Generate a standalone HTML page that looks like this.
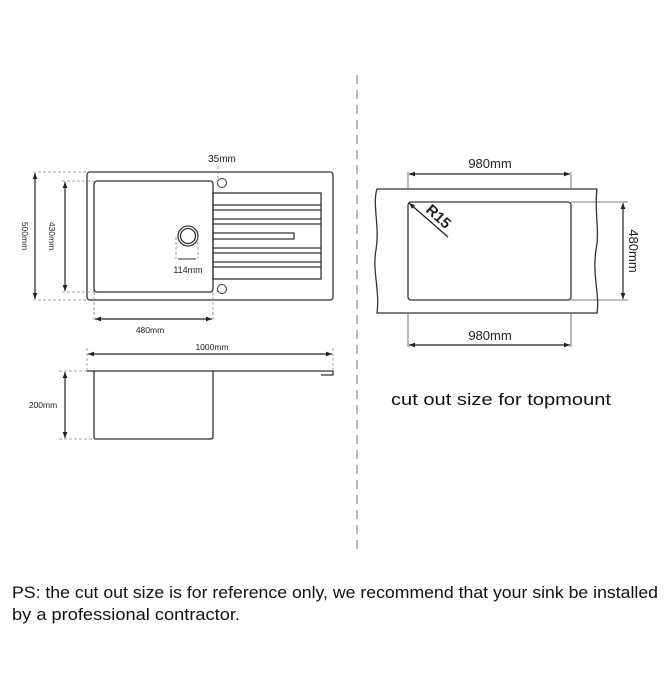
<!DOCTYPE html>
<html><head><style>body{margin:0;background:#fff}</style></head><body>
<svg width="670" height="670" xmlns="http://www.w3.org/2000/svg" font-family="Liberation Sans, sans-serif">
<defs><marker id="a" viewBox="0 0 10 10" refX="10" refY="5" markerWidth="7" markerHeight="5" orient="auto-start-reverse"><path d="M0,1L10,5L0,9z" fill="#222"/></marker></defs>
<g stroke="#333" fill="none" stroke-width="1.3">
<rect x="87" y="172" width="246" height="128" rx="3"/>
<rect x="94" y="181" width="119" height="111" rx="3"/>
<rect x="213" y="193" width="108" height="86"/>
<path d="M213,205H321M213,210H321M213,219H321M213,224H321M213,233H294V239H213M213,248H321M213,253H321M213,262H321M213,267H321"/>
<circle cx="188" cy="236" r="10"/><circle cx="188" cy="236" r="7.5"/>
<circle cx="222" cy="183" r="4.5" stroke-width="1"/><circle cx="222" cy="289" r="4.5" stroke-width="1"/>
<path d="M87,371H333V375H321" /><path d="M94,371V437q0,2 2,2H211q2,0 2,-2V371"/>
</g>
<g stroke="#888" stroke-dasharray="3,2" stroke-width="0.8" fill="none">
<path d="M33,172H87M33,300H87M62,181H94M62,292H94M94,292V322M213,292V322M176,237V259M198,237V259M87,348V372M333,348V372M59,371H87M59,439H94M218,166V180"/>
</g>
<g stroke="#222" stroke-width="1.2" marker-start="url(#a)" marker-end="url(#a)">
<line x1="35" y1="173" x2="35" y2="299"/><line x1="65" y1="182" x2="65" y2="291"/>
<line x1="95" y1="319" x2="212" y2="319"/><line x1="88" y1="354" x2="332" y2="354"/>
<line x1="65" y1="372" x2="65" y2="438"/>
<line x1="409" y1="174" x2="570" y2="174"/><line x1="409" y1="345" x2="570" y2="345"/>
<line x1="623" y1="203" x2="623" y2="299"/>
</g>
<line x1="178" y1="259" x2="196" y2="259" stroke="#333"/>
<g font-size="9" fill="#222">
<text x="222" y="162" text-anchor="middle" font-size="10">35mm</text>
<text x="188" y="273" text-anchor="middle">114mm</text>
<text x="150" y="333" text-anchor="middle" font-size="8.5">480mm</text>
<text x="212" y="350" text-anchor="middle" font-size="8.5">1000mm</text>
<text x="43" y="408" text-anchor="middle" font-size="8.5">200mm</text>
<text transform="translate(22,236) rotate(90)" text-anchor="middle" font-size="8.5">500mm</text>
<text transform="translate(49,236) rotate(90)" text-anchor="middle" font-size="8.5">430mm</text>
</g>
<line x1="357" y1="75" x2="357" y2="552" stroke="#bbb" stroke-width="2" stroke-dasharray="9,6"/>
<g stroke="#333" fill="none" stroke-width="1.3">
<path d="M377,189H597C594,210 600,230 596,250C592,275 600,295 597,313H377C380,290 372,270 376,250C380,225 372,205 377,189Z"/>
<rect x="408" y="202" width="163" height="98" rx="3"/>
</g>
<g stroke="#555" stroke-width="0.8"><path d="M408,172V189M571,172V189M408,313V347M571,313V347M571,202H628M571,300H628"/></g>
<line x1="409" y1="203" x2="448" y2="237" stroke="#222" stroke-width="1.2" marker-start="url(#a)"/>
<text transform="translate(425,211) rotate(42)" font-size="15" font-weight="bold" fill="#222">R15</text>
<g font-size="13" fill="#222">
<text x="490" y="168" text-anchor="middle">980mm</text>
<text x="490" y="340" text-anchor="middle">980mm</text>
<text transform="translate(629,251) rotate(90)" text-anchor="middle">480mm</text>
</g>
<text x="391" y="405" font-size="17" fill="#111" textLength="220" lengthAdjust="spacingAndGlyphs">cut out size for topmount</text>
<text x="12" y="598" font-size="16.5" fill="#111" textLength="646" lengthAdjust="spacingAndGlyphs">PS: the cut out size is for reference only, we recommend that your sink be installed</text>
<text x="12" y="620" font-size="16.5" fill="#111" textLength="228" lengthAdjust="spacingAndGlyphs">by a professional contractor.</text>
</svg>
</body></html>
